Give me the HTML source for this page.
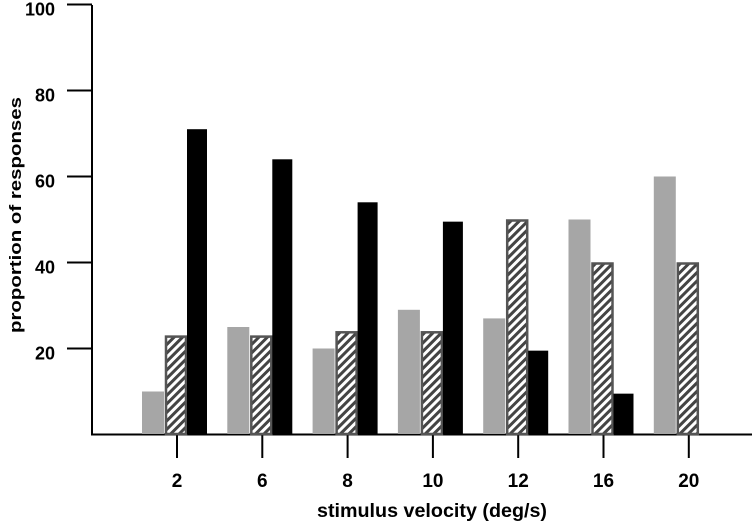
<!DOCTYPE html>
<html><head><meta charset="utf-8"><style>
body{margin:0;background:#fff}
svg text{font-family:"Liberation Sans",sans-serif;font-weight:bold;fill:#000}
</style></head><body>
<svg id="chart" width="756" height="525" viewBox="0 0 756 525" xmlns="http://www.w3.org/2000/svg">
<defs>
<pattern id="hatch" patternUnits="userSpaceOnUse" width="6" height="6" patternTransform="rotate(45)">
<rect width="6" height="6" fill="#fff"/><rect width="3" height="6" fill="#444"/>
</pattern>
</defs>
<g id="axes"></g>
<g id="bars"></g>
<text transform="translate(21,215) rotate(-90)" text-anchor="middle" font-size="17" textLength="236" lengthAdjust="spacingAndGlyphs">proportion of responses</text>
<text x="432" y="517" text-anchor="middle" font-size="19" textLength="230" lengthAdjust="spacingAndGlyphs">stimulus velocity (deg/s)</text>
</svg>
<script>
const categories=["2","6","8","10","12","16","20"];
const grayVals=[10,25,20,29,27,50,60];
const hatchVals=[23,23,24,24,50,40,40];
const blackVals=[71,64,54,49.5,19.5,9.5,null];
const yTicks=[20,40,60,80,100];
const NS="http://www.w3.org/2000/svg";
const y=v=>434.5-v*4.3;
const gx=i=>142+85.3*i;
function mk(t,a,p){const e=document.createElementNS(NS,t);for(const k in a)e.setAttribute(k,a[k]);p.appendChild(e);return e;}
const ax=document.getElementById('axes'),bars=document.getElementById('bars');
let l=mk('line',{x1:92,y1:5,x2:92,y2:435,stroke:'#000','stroke-width':2},ax);


l=mk('line',{x1:91,y1:434.5,x2:752,y2:434.5,stroke:'#000','stroke-width':2},ax);


yTicks.forEach(v=>{
 const t=mk('line',{x1:67,y1:y(v),x2:92,y2:y(v),stroke:'#000','stroke-width':2},ax);
 
 
 const tx=mk('text',{x:55,y:y(v)+11,'text-anchor':'end','font-size':18},ax);tx.textContent=v;
 
 
});
categories.forEach((c,i)=>{
 const t=mk('line',{x1:gx(i)+35,y1:434,x2:gx(i)+35,y2:458,stroke:'#000','stroke-width':2},ax);
 
 
 const tx=mk('text',{x:gx(i)+35,y:487,'text-anchor':'middle','font-size':19},ax);tx.textContent=c;
 
 
 let b=mk('rect',{x:gx(i),y:y(grayVals[i]),width:22,height:434-y(grayVals[i]),fill:'#a6a6a6'},bars);
 
 
 b=mk('rect',{x:gx(i)+24,y:y(hatchVals[i])+1,width:20,height:433-y(hatchVals[i]),fill:'url(#hatch)',stroke:'#555','stroke-width':2.5},bars);
 
 
 if(blackVals[i]!=null){
  b=mk('rect',{x:gx(i)+45,y:y(blackVals[i]),width:20,height:434-y(blackVals[i]),fill:'#000'},bars);
  
  
 }
});
</script>
</body></html>
